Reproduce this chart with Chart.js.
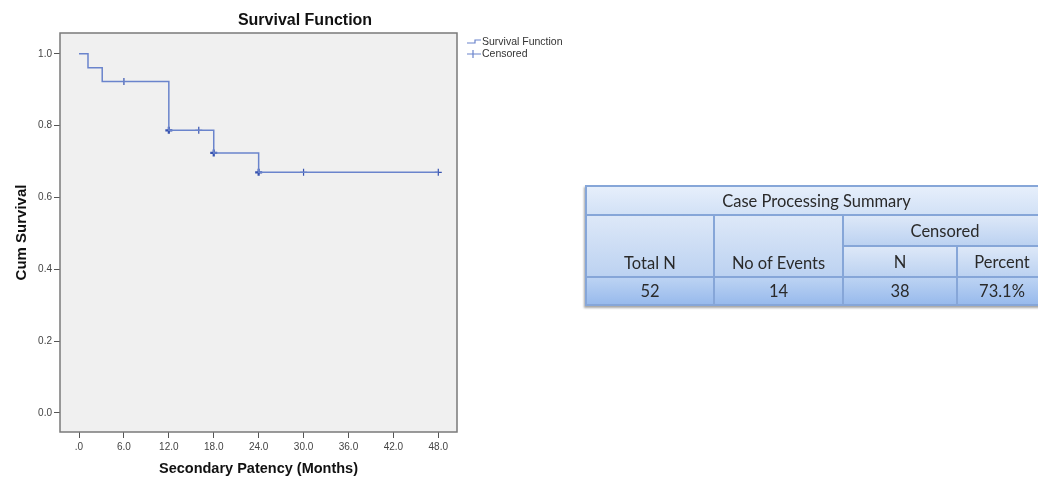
<!DOCTYPE html>
<html>
<head>
<meta charset="utf-8">
<script src="https://cdn.jsdelivr.net/npm/chart.js@4"></script>
<style>
  body { margin: 0; width: 1038px; height: 479px; overflow: hidden; background: #fff; position: relative; }
  #wrap { position: absolute; left: 0; top: 0; }
  #summary {
    position: absolute; left: 585px; top: 185px; width: 461px; table-layout: fixed;
    border-collapse: collapse; font-family: Lato, "Open Sans", sans-serif; white-space: nowrap;
    font-size: 16.5px; color: #2a2a2a; box-shadow: -1px 2px 2px rgba(0,0,0,0.35);
  }
  #summary td { border: 2px solid #86a6d8; text-align: center; padding: 0; }
  #summary .title { height: 27px; background: linear-gradient(#e6effb, #d2e1f6); }
  #summary .head { background: linear-gradient(#dde8f8, #bcd2f1); }
  #summary .data { height: 26px; background: linear-gradient(#bcd3f3, #98baec); }
</style>
</head>
<body>
<div id="wrap"><canvas id="grafico" width="610" height="479"></canvas></div>
<table id="summary"></table>
<script>
// Kaplan-Meier survival curve
const survTimes = [0, 1.2, 3.1, 12, 18, 24, 48];
const survProbs = [1.0, 0.9615, 0.923, 0.787, 0.724, 0.670, 0.670];
// censored marks
const censTimes = [6, 12, 16, 18, 24, 30, 48];
const censProbs = [0.923, 0.787, 0.787, 0.724, 0.670, 0.670, 0.670];
const censCounts = [1, 3, 1, 2, 2, 1, 1];

const xTicks = [0, 6, 12, 18, 24, 30, 36, 42, 48];
const xTickLabels = [".0", "6.0", "12.0", "18.0", "24.0", "30.0", "36.0", "42.0", "48.0"];
const yTicks = [0, 0.2, 0.4, 0.6, 0.8, 1.0];
const yTickLabels = ["0.0", "0.2", "0.4", "0.6", "0.8", "1.0"];
const legendLabels = ["Survival Function", "Censored"];

// table
const tableTitle = "Case Processing Summary";
const colHeads = ["Total N", "No of Events"];
const censHead = "Censored";
const censSubHeads = ["N", "Percent"];
const summaryValues = ["52", "14", "38", "73.1%"];
const colWidths = [128, 129, 114, 90];

const corLinha = "#6a84cc";
const corCens = "#3753b0";

const tabela = document.getElementById("summary");
tabela.innerHTML =
  '<colgroup>' + colWidths.map(w => '<col style="width:' + w + 'px">').join("") + '</colgroup>' +
  '<tr><td class="title" colspan="4">' + tableTitle + '</td></tr>' +
  '<tr><td class="head" rowspan="2" style="vertical-align:bottom;padding-bottom:3px">' + colHeads[0] + '</td>' +
  '<td class="head" rowspan="2" style="vertical-align:bottom;padding-bottom:3px">' + colHeads[1] + '</td>' +
  '<td class="head" colspan="2" style="height:29px">' + censHead + '</td></tr>' +
  '<tr><td class="head" style="height:29px">' + censSubHeads[0] + '</td>' +
  '<td class="head">' + censSubHeads[1] + '</td></tr>' +
  '<tr>' + summaryValues.map(v => '<td class="data">' + v + '</td>').join("") + '</tr>';

const fundoPlot = {
  id: "fundoPlot",
  beforeDraw(chart) {
    const a = chart.chartArea, ctx = chart.ctx;
    ctx.save();
    ctx.fillStyle = "#f0f0f0";
    ctx.fillRect(a.left, a.top, a.right - a.left, a.bottom - a.top);
    ctx.restore();
  },
  afterDraw(chart) {
    const a = chart.chartArea, ctx = chart.ctx;
    ctx.save();
    ctx.strokeStyle = "#7a7a7a";
    ctx.lineWidth = 1.5;
    ctx.strokeRect(a.left, a.top, a.right - a.left, a.bottom - a.top);

    // legend
    const lx = a.right + 10, ty = a.top + 10;
    ctx.strokeStyle = corLinha;
    ctx.lineWidth = 1.2;
    ctx.beginPath();
    ctx.moveTo(lx, ty);
    ctx.lineTo(lx + 8, ty);
    ctx.lineTo(lx + 8, ty - 3);
    ctx.lineTo(lx + 14, ty - 3);
    ctx.stroke();
    ctx.beginPath();
    ctx.moveTo(lx, ty + 11);
    ctx.lineTo(lx + 14, ty + 11);
    ctx.moveTo(lx + 6, ty + 7);
    ctx.lineTo(lx + 6, ty + 15);
    ctx.stroke();
    ctx.fillStyle = "#333";
    ctx.font = '10.5px "Liberation Sans Narrow", "Liberation Sans", sans-serif';
    ctx.textBaseline = "middle";
    ctx.fillText(legendLabels[0], lx + 15, ty - 1);
    ctx.fillText(legendLabels[1], lx + 15, ty + 11);
    ctx.restore();
  }
};

new Chart(document.getElementById("grafico"), {
  type: "scatter",
  data: {
    datasets: [{
      label: legendLabels[0],
      type: "line",
      data: survTimes.map((t, i) => ({ x: t, y: survProbs[i] })),
      borderColor: corLinha,
      borderWidth: 1.5,
      stepped: true,
      pointRadius: 0,
      fill: false
    }, {
      label: legendLabels[1],
      data: censTimes.map((t, i) => ({ x: t, y: censProbs[i] })),
      pointStyle: "cross",
      pointRadius: 3.5,
      borderColor: corCens,
      borderWidth: ctx => (censCounts[ctx.dataIndex] > 1 ? 2.2 : 1.2)
    }]
  },
  options: {
    responsive: false,
    animation: false,
    layout: { padding: 0 },
    plugins: {
      legend: { display: false },
      tooltip: { enabled: false },
      title: {
        display: true,
        text: "Survival Function",
        color: "#111",
        font: { family: '"Liberation Sans", Arial, sans-serif', size: 16, weight: "bold" },
        padding: { top: 11, bottom: 2.8 }
      }
    },
    scales: {
      x: {
        type: "linear",
        min: -2.54,
        max: 50.5,
        afterBuildTicks: s => { s.ticks = xTicks.map(v => ({ value: v })); },
        afterFit: s => { s.height = 47; },
        ticks: {
          callback: (v, i) => xTickLabels[i],
          color: "#444",
          padding: 3,
          maxRotation: 0,
          font: { family: '"Liberation Sans Narrow", "Liberation Sans", sans-serif', size: 10 }
        },
        grid: { drawOnChartArea: false, tickLength: 6, color: "#555" },
        border: { display: false },
        title: {
          display: true,
          text: "Secondary Patency (Months)",
          color: "#111",
          font: { family: '"Liberation Sans", Arial, sans-serif', size: 14.5, weight: "bold" },
          padding: { top: 0, bottom: 1.5 }
        }
      },
      y: {
        min: -0.053,
        max: 1.058,
        afterBuildTicks: s => { s.ticks = yTicks.map(v => ({ value: v })); },
        afterFit: s => { s.width = 60; },
        ticks: {
          callback: (v, i) => yTickLabels[i],
          color: "#444",
          padding: 2,
          font: { family: '"Liberation Sans Narrow", "Liberation Sans", sans-serif', size: 10 }
        },
        grid: { drawOnChartArea: false, tickLength: 6, color: "#555" },
        border: { display: false },
        title: {
          display: true,
          text: "Cum Survival",
          color: "#111",
          font: { family: '"Liberation Sans", Arial, sans-serif', size: 15, weight: "bold" },
          padding: { top: 12.5, bottom: 0 }
        }
      },
      // empty right axis that keeps room for the legend
      espacoLegenda: {
        type: "linear",
        position: "right",
        afterFit: s => { s.width = 153; },
        ticks: { display: false },
        grid: { display: false },
        border: { display: false }
      }
    }
  },
  plugins: [fundoPlot]
});
</script>
</body>
</html>
